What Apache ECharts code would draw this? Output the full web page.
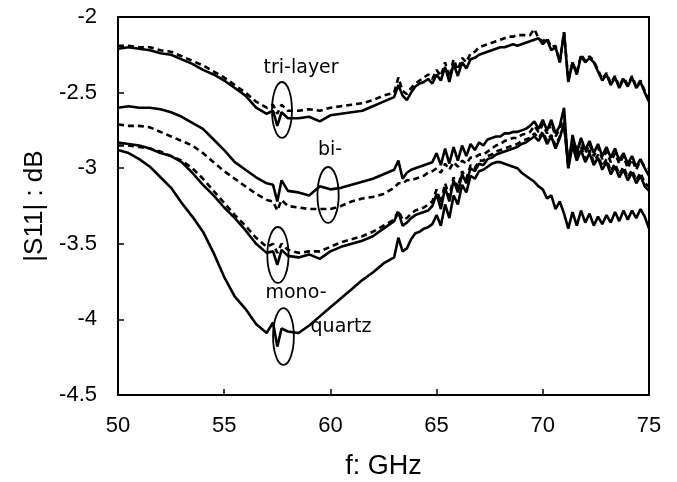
<!DOCTYPE html>
<html>
<head>
<meta charset="utf-8">
<script src="https://cdn.jsdelivr.net/npm/echarts@6/dist/echarts.min.js"></script>
<style>
html,body{margin:0;padding:0;background:#fff;}
#chart{width:677px;height:482px;}
</style>
</head>
<body>
<div id="chart"></div>
<script>
// Frequencies (GHz)
const freq = [
  50, 50.5, 51, 51.5, 52, 52.5, 53, 53.5, 54, 54.5, 55, 55.5, 56, 56.5,
  57, 57.3, 57.5, 57.7, 58, 58.5, 59, 59.5, 60, 60.5, 61, 61.5, 62, 62.5,
  63, 63.2, 63.4, 63.6, 63.8, 64, 64.2, 64.4, 64.6, 64.8, 65, 65.2, 65.4, 65.6, 65.8, 66, 66.2, 66.4, 66.6, 66.8,
  67, 67.2, 67.4, 67.6, 67.8, 68, 68.2, 68.4, 68.6, 68.8, 69, 69.2, 69.4, 69.6, 69.8, 70, 70.2, 70.4, 70.6, 70.8,
  71, 71.2, 71.4, 71.6, 71.8, 72, 72.2, 72.4, 72.6, 72.8, 73, 73.2, 73.4, 73.6, 73.8, 74, 74.2, 74.4, 74.6, 74.8, 75
];
// |S11| (dB)
const triLayerSolid = [
  -2.21, -2.2, -2.21, -2.22, -2.24, -2.25, -2.28, -2.31, -2.35, -2.38, -2.42, -2.47, -2.52, -2.6,
  -2.64, -2.62, -2.72, -2.63, -2.67, -2.67, -2.66, -2.69, -2.65, -2.64, -2.63, -2.62, -2.59, -2.56,
  -2.53, -2.45, -2.52, -2.55, -2.5, -2.46, -2.44, -2.43, -2.41, -2.44, -2.38, -2.42, -2.33, -2.43, -2.31, -2.39, -2.3, -2.34, -2.28, -2.27,
  -2.25, -2.24, -2.23, -2.22, -2.21, -2.2, -2.2, -2.19, -2.18, -2.19, -2.18, -2.17, -2.16, -2.15, -2.14, -2.18, -2.15, -2.22, -2.2, -2.3,
  -2.1, -2.43, -2.3, -2.38, -2.26, -2.3, -2.27, -2.3, -2.36, -2.42, -2.38, -2.45, -2.4, -2.47, -2.41, -2.46, -2.4, -2.47, -2.43, -2.5, -2.56
];
const triLayerDashed = [
  -2.19, -2.19, -2.2, -2.2, -2.22, -2.23, -2.26, -2.29, -2.32, -2.36, -2.4, -2.45, -2.5, -2.56,
  -2.6, -2.58, -2.64, -2.58, -2.62, -2.62, -2.61, -2.62, -2.6, -2.59, -2.58, -2.57, -2.55, -2.52,
  -2.5, -2.4, -2.49, -2.51, -2.47, -2.44, -2.42, -2.4, -2.38, -2.41, -2.35, -2.39, -2.3, -2.4, -2.28, -2.35, -2.27, -2.3, -2.24, -2.23,
  -2.2, -2.19, -2.18, -2.17, -2.16, -2.15, -2.14, -2.13, -2.13, -2.12, -2.12, -2.12, -2.12, -2.08, -2.14, -2.16, -2.14, -2.2, -2.19, -2.3,
  -2.1, -2.42, -2.3, -2.37, -2.25, -2.29, -2.26, -2.29, -2.35, -2.41, -2.37, -2.44, -2.39, -2.46, -2.4, -2.45, -2.39, -2.46, -2.42, -2.49, -2.55
];
const biSolid = [
  -2.6, -2.59, -2.6, -2.6, -2.61, -2.63, -2.66, -2.7, -2.74, -2.81, -2.88, -2.96, -3.01, -3.06,
  -3.1, -3.11, -3.22, -3.08, -3.15, -3.16, -3.18, -3.12, -3.14, -3.13, -3.11, -3.09, -3.07, -3.04,
  -3.01, -2.95, -3.07, -3.03, -3.01, -3.0, -2.99, -2.98, -2.97, -2.96, -2.9, -2.98, -2.87, -2.97, -2.86, -2.95, -2.85, -2.92, -2.84, -2.88,
  -2.83, -2.85, -2.81, -2.8, -2.79, -2.79, -2.77, -2.77, -2.76, -2.76, -2.75, -2.74, -2.72, -2.69, -2.74, -2.68, -2.75, -2.68, -2.77, -2.72,
  -2.6, -3.0, -2.78, -2.9, -2.8, -2.88, -2.82, -2.9, -2.84, -2.92, -2.86, -2.93, -2.87, -2.95, -2.9, -2.97, -2.92, -2.99, -2.94, -3.0, -3.05
];
const biDashed = [
  -2.71, -2.72, -2.72, -2.73, -2.76, -2.79, -2.82, -2.85, -2.9, -2.96, -3.02, -3.07, -3.12, -3.17,
  -3.21, -3.22, -3.28, -3.21, -3.25, -3.26, -3.27, -3.27, -3.27, -3.25, -3.22, -3.2, -3.19, -3.17,
  -3.13, -3.1, -3.1, -3.08, -3.08, -3.07, -3.06, -3.05, -3.03, -3.02, -3.0, -3.03, -2.97, -3.01, -2.96, -2.99, -2.95, -2.97, -2.93, -2.93,
  -2.91, -2.91, -2.89, -2.87, -2.85, -2.84, -2.82, -2.81, -2.8, -2.8, -2.78, -2.77, -2.76, -2.72, -2.76, -2.71, -2.77, -2.7, -2.79, -2.74,
  -2.64, -2.98, -2.8, -2.88, -2.82, -2.9, -2.84, -2.92, -2.86, -2.94, -2.89, -2.96, -2.9, -2.97, -2.92, -3.0, -2.94, -3.01, -2.95, -2.99, -3.0
];
const monoSolid = [
  -2.83, -2.84, -2.85, -2.87, -2.9, -2.92, -2.96, -3.03, -3.11, -3.18, -3.26, -3.33, -3.41, -3.5,
  -3.56, -3.55, -3.64, -3.54, -3.58, -3.59, -3.57, -3.6, -3.55, -3.52, -3.5, -3.48, -3.45, -3.4,
  -3.35, -3.29, -3.38, -3.36, -3.33, -3.31, -3.3, -3.29, -3.28, -3.25, -3.17, -3.27, -3.13, -3.22, -3.08, -3.16, -3.04, -3.1, -3.0, -3.02,
  -2.97, -2.98, -2.94, -2.93, -2.91, -2.9, -2.89, -2.88, -2.87, -2.86, -2.84, -2.83, -2.81, -2.79, -2.82, -2.77, -2.84, -2.79, -2.87, -2.8,
  -2.7, -3.0, -2.85, -2.95, -2.88, -2.96, -2.9, -2.98, -2.93, -3.01, -2.96, -3.04, -2.99, -3.06, -3.01, -3.08, -3.03, -3.1, -3.05, -3.12, -3.15
];
const monoDashed = [
  -2.85, -2.85, -2.86, -2.87, -2.89, -2.92, -2.95, -3.0, -3.07, -3.15, -3.23, -3.31, -3.38, -3.46,
  -3.52, -3.5, -3.56, -3.5, -3.54, -3.56, -3.55, -3.55, -3.52, -3.49, -3.47, -3.45, -3.42, -3.38,
  -3.34, -3.28, -3.34, -3.33, -3.3, -3.28, -3.27, -3.26, -3.24, -3.22, -3.14, -3.23, -3.1, -3.19, -3.06, -3.13, -3.02, -3.07, -2.98, -3.0,
  -2.95, -2.95, -2.92, -2.91, -2.89, -2.88, -2.87, -2.86, -2.85, -2.84, -2.82, -2.81, -2.8, -2.77, -2.8, -2.76, -2.82, -2.78, -2.85, -2.79,
  -2.72, -2.97, -2.84, -2.93, -2.86, -2.94, -2.88, -2.96, -2.91, -2.99, -2.94, -3.02, -2.97, -3.04, -2.99, -3.06, -3.01, -3.08, -3.03, -3.1, -3.12
];
const quartz = [
  -2.88, -2.9, -2.94, -2.99, -3.06, -3.13, -3.23, -3.32, -3.42, -3.56, -3.72, -3.85, -3.93, -4.03,
  -4.09, -4.02, -4.18, -4.06, -4.08, -4.09, -4.04, -3.98, -3.92, -3.86, -3.8, -3.74, -3.69, -3.63,
  -3.59, -3.46, -3.55, -3.53, -3.47, -3.43, -3.42, -3.4, -3.39, -3.37, -3.31, -3.38, -3.24, -3.33, -3.18, -3.24, -3.11, -3.16, -3.05, -3.07,
  -3.02, -3.01, -2.99, -2.97, -2.96, -2.96, -2.97, -2.98, -2.99, -3.0, -3.03, -3.05, -3.07, -3.09, -3.12, -3.14, -3.2, -3.18, -3.27, -3.22,
  -3.3, -3.4, -3.29, -3.38, -3.28, -3.36, -3.3, -3.38, -3.32, -3.37, -3.31, -3.36, -3.29, -3.35, -3.28, -3.34, -3.28, -3.33, -3.27, -3.32, -3.4
];
// Annotation ellipses (centre f, centre dB, half-width GHz, half-height dB)
const ellipseF  = [57.72, 59.89, 57.53, 57.79];
const ellipseDb = [-2.615, -3.177, -3.574, -4.113];
const ellipseRf = [0.47, 0.5, 0.5, 0.49];
const ellipseRdb = [0.185, 0.185, 0.185, 0.188];
// Annotation labels
const labelText = ['tri-layer', 'bi-', 'mono-', 'quartz'];
const labelF  = [58.62, 59.98, 58.38, 60.5];
const labelDb = [-2.337, -2.88, -3.825, -4.05];

const xTicks = { min: 50, max: 75, interval: 5 };
const yTicks = { min: -4.5, max: -2, interval: 0.5 };

const pair = arr => freq.map((f, i) => [f, arr[i]]);
const lineSeries = (name, arr, dashed) => ({
  name, type: 'line', data: pair(arr), showSymbol: false, symbol: 'none',
  silent: true, z: 3,
  lineStyle: { color: '#000', width: 2.6, type: dashed ? [6, 4] : 'solid' }
});

const chart = echarts.init(document.getElementById('chart'), null, { renderer: 'canvas' });
const axisFont = '"Liberation Sans", sans-serif';
chart.setOption({
  animation: false,
  backgroundColor: '#fff',
  grid: { left: 118, right: 28, top: 17, bottom: 87, outerBoundsMode: 'none', containLabel: false,
    show: true, borderColor: '#000', borderWidth: 2, backgroundColor: 'transparent' },
  xAxis: {
    type: 'value', min: xTicks.min, max: xTicks.max, interval: xTicks.interval,
    name: 'f: GHz', nameLocation: 'middle', nameGap: 58,
    nameTextStyle: { color: '#000', fontSize: 27, fontFamily: axisFont },
    axisLine: { show: true, lineStyle: { color: '#000', width: 2 } },
    axisTick: { show: true, inside: true, length: 6, lineStyle: { color: '#000', width: 1.5 } },
    axisLabel: { color: '#000', fontSize: 22, fontFamily: axisFont, margin: 20 },
    splitLine: { show: false }
  },
  yAxis: {
    type: 'value', min: yTicks.min, max: yTicks.max, interval: yTicks.interval,
    name: '|S11| : dB', nameLocation: 'middle', nameGap: 56,
    nameTextStyle: { color: '#000', fontSize: 26, fontFamily: axisFont },
    axisLine: { show: true, lineStyle: { color: '#000', width: 2 } },
    axisTick: { show: true, inside: true, length: 6, lineStyle: { color: '#000', width: 1.5 } },
    axisLabel: { color: '#000', fontSize: 22, fontFamily: axisFont, margin: 21 },
    splitLine: { show: false }
  },
  series: [
    lineSeries('tri-layer solid', triLayerSolid, false),
    lineSeries('tri-layer dashed', triLayerDashed, true),
    lineSeries('bi solid', biSolid, false),
    lineSeries('bi dashed', biDashed, true),
    lineSeries('mono solid', monoSolid, false),
    lineSeries('mono dashed', monoDashed, true),
    lineSeries('quartz', quartz, false),
    {
      type: 'custom', silent: true, z: 4,
      data: ellipseF.map((f, i) => [f, ellipseDb[i], ellipseRf[i], ellipseRdb[i]]),
      renderItem: (params, api) => {
        const c = api.coord([api.value(0), api.value(1)]);
        const s = api.size([api.value(2), api.value(3)]);
        return { type: 'ellipse', shape: { cx: c[0], cy: c[1], rx: s[0], ry: s[1] },
          style: { fill: 'none', stroke: '#000', lineWidth: 1.8 } };
      }
    },
    {
      type: 'custom', silent: true, z: 5,
      data: labelF.map((f, i) => [f, labelDb[i], i]),
      renderItem: (params, api) => {
        const c = api.coord([api.value(0), api.value(1)]);
        return { type: 'text', x: c[0], y: c[1],
          style: { text: labelText[api.value(2)], fill: '#000', font: '19px "DejaVu Sans", sans-serif',
            align: 'center', verticalAlign: 'middle' } };
      }
    }
  ]
});
</script>
</body>
</html>
